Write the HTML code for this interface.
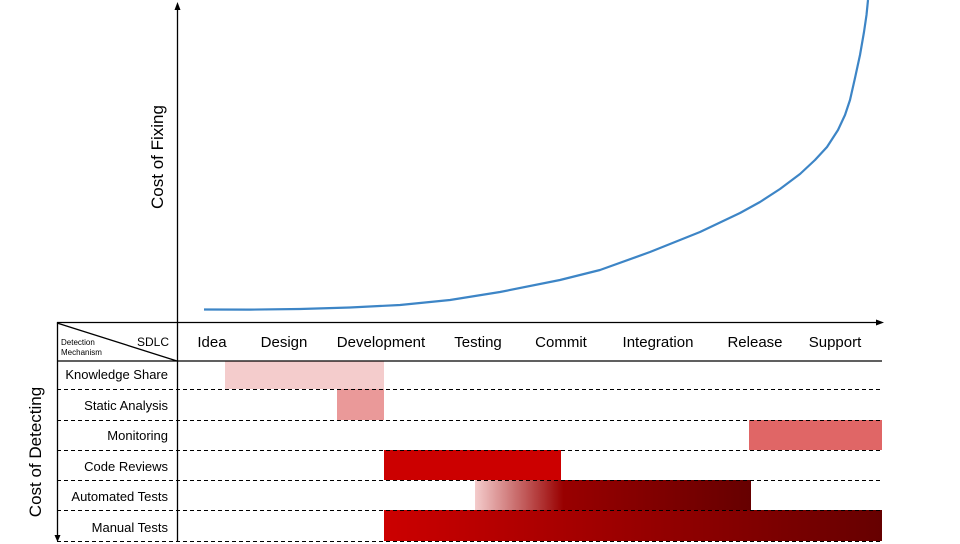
<!DOCTYPE html>
<html><head><meta charset="utf-8"><style>
html,body{margin:0;padding:0;background:#fff;}
svg{display:block;font-family:"Liberation Sans",Arial,sans-serif;}
</style></head><body>
<svg width="960" height="544" viewBox="0 0 960 544" xmlns="http://www.w3.org/2000/svg">
<defs>
<linearGradient id="ga" x1="0" x2="1" y1="0" y2="0">
<stop offset="0" stop-color="#f4cccc"/><stop offset="0.32" stop-color="#990000"/><stop offset="1" stop-color="#660000"/>
</linearGradient>
<linearGradient id="gm" x1="0" x2="1" y1="0" y2="0">
<stop offset="0" stop-color="#cc0000"/><stop offset="1" stop-color="#660000"/>
</linearGradient>
</defs>
<rect x="225" y="361" width="159" height="28" fill="#f4cccc"/>
<rect x="337" y="389" width="47" height="31" fill="#ea9999"/>
<rect x="749" y="420" width="133" height="30" fill="#e06666"/>
<rect x="384" y="450" width="177" height="30" fill="#cc0000"/>
<rect x="475" y="480" width="276" height="30" fill="url(#ga)"/>
<rect x="384" y="510" width="498" height="31" fill="url(#gm)"/>
<g stroke="#000" stroke-width="1" stroke-dasharray="4,3">
<line x1="57" y1="389.5" x2="882" y2="389.5"/>
<line x1="57" y1="420.5" x2="882" y2="420.5"/>
<line x1="57" y1="450.5" x2="882" y2="450.5"/>
<line x1="57" y1="480.5" x2="882" y2="480.5"/>
<line x1="57" y1="510.5" x2="882" y2="510.5"/>
<line x1="57" y1="541.5" x2="882" y2="541.5"/>
</g>
<g stroke="#000" stroke-width="1.3" fill="none">
<line x1="57" y1="322.5" x2="878" y2="322.5"/>
<line x1="57" y1="361" x2="882" y2="361"/>
<line x1="177.5" y1="6" x2="177.5" y2="541"/>
<line x1="57.5" y1="322" x2="57.5" y2="537"/>
<line x1="57" y1="323" x2="177" y2="361"/>
</g>
<polygon points="884,322.5 876,319.5 876,325.5" fill="#000"/>
<polygon points="177.5,2 174.5,10 180.5,10" fill="#000"/>
<polygon points="57.5,542 54.5,535 60.5,535" fill="#000"/>
<polyline points="204,309.5 250,309.6 300,309 350,307.5 400,305 450,300 500,292 560,280 600,270 650,252 700,232 740,213 760,202 780,189 800,174 815,160 827,147 838,130 845,115 850,100 855,78 860,55 864,32 866.5,15 868,0" fill="none" stroke="#3d85c6" stroke-width="2.2" stroke-linejoin="round"/>
<text transform="translate(163,157) rotate(-90)" text-anchor="middle" font-size="17">Cost of Fixing</text>
<text transform="translate(41,452) rotate(-90)" text-anchor="middle" font-size="17">Cost of Detecting</text>
<text x="169" y="346" text-anchor="end" font-size="12">SDLC</text>
<text x="61" y="345" font-size="8">Detection</text>
<text x="61" y="355" font-size="8">Mechanism</text>
<g font-size="15" text-anchor="middle">
<text x="212" y="347">Idea</text>
<text x="284" y="347">Design</text>
<text x="381" y="347">Development</text>
<text x="478" y="347">Testing</text>
<text x="561" y="347">Commit</text>
<text x="658" y="347">Integration</text>
<text x="755" y="347">Release</text>
<text x="835" y="347">Support</text>
</g>
<g font-size="13" text-anchor="end">
<text x="168" y="379">Knowledge Share</text>
<text x="168" y="410">Static Analysis</text>
<text x="168" y="440">Monitoring</text>
<text x="168" y="471">Code Reviews</text>
<text x="168" y="501">Automated Tests</text>
<text x="168" y="532">Manual Tests</text>
</g>
</svg>
</body></html>
